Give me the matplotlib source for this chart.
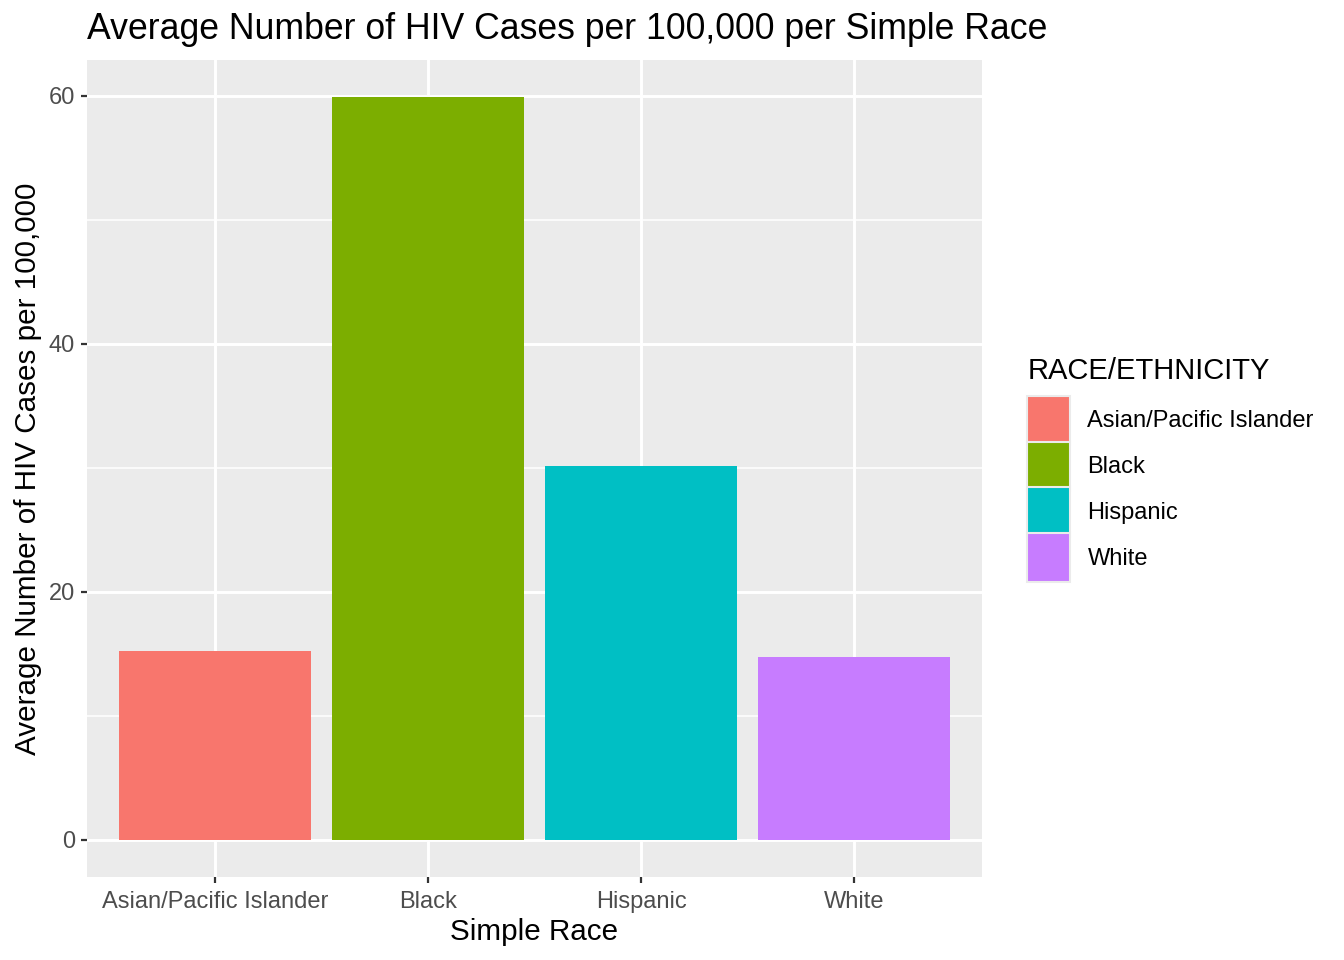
import matplotlib.pyplot as plt
from matplotlib.patches import Patch

plt.rcParams['font.family'] = ['Liberation Sans', 'DejaVu Sans']

races = ['Asian/Pacific Islander', 'Black', 'Hispanic', 'White']
avg_cases = [15.22, 59.88, 30.13, 14.74]
colors = ['#F8766D', '#7CAE00', '#00BFC4', '#C77CFF']

fig = plt.figure(figsize=(13.44, 9.6), dpi=100)
ax = fig.add_axes([87 / 1344, 1 - 877 / 960, (982 - 87) / 1344, (877 - 60) / 960])
ax.set_facecolor('#EBEBEB')

x = range(len(races))
ax.bar(x, avg_cases, width=0.9, color=colors, zorder=3)

# ggplot-like expansion
top = max(avg_cases)
ax.set_ylim(-0.05 * top, top * 1.05)
ax.set_xlim(-0.6, len(races) - 0.4)

ax.set_xticks(list(x))
ax.set_xticklabels(races)
ax.set_yticks([0, 20, 40, 60])
ax.set_yticks([10, 30, 50], minor=True)

ax.grid(which='major', color='white', linewidth=2.1, zorder=0)
ax.grid(which='minor', axis='y', color='white', linewidth=1.1, zorder=0)
ax.set_axisbelow(True)
for s in ax.spines.values():
    s.set_visible(False)

ax.tick_params(which='major', length=4.5, width=1.6, color='#333333',
               labelsize=17, labelcolor='#4D4D4D', pad=4)
ax.tick_params(axis='x', which='major', pad=5.5)
ax.tick_params(which='minor', length=0)

ax.set_xlabel('Simple Race', fontsize=21.3, labelpad=4)
ax.set_ylabel('Average Number of HIV Cases per 100,000', fontsize=21.3, labelpad=5)
ax.set_title('Average Number of HIV Cases per 100,000 per Simple Race',
             fontsize=25.7, loc='left', pad=15)

handles = [Patch(facecolor=c, edgecolor='#EBEBEB', linewidth=1.5) for c in colors]
leg = fig.legend(handles, races, title='RACE/ETHNICITY',
                 loc='upper left', bbox_to_anchor=(1018 / 1344, 1 - 348 / 960),
                 frameon=False, fontsize=17, title_fontsize=21,
                 handlelength=1.82, handleheight=2.8, labelspacing=-0.12,
                 handletextpad=0.72, borderaxespad=0, alignment='left')
# more room between legend title and keys
leg._legend_box.sep = 7.3

fig.savefig('out.png', dpi=100)
